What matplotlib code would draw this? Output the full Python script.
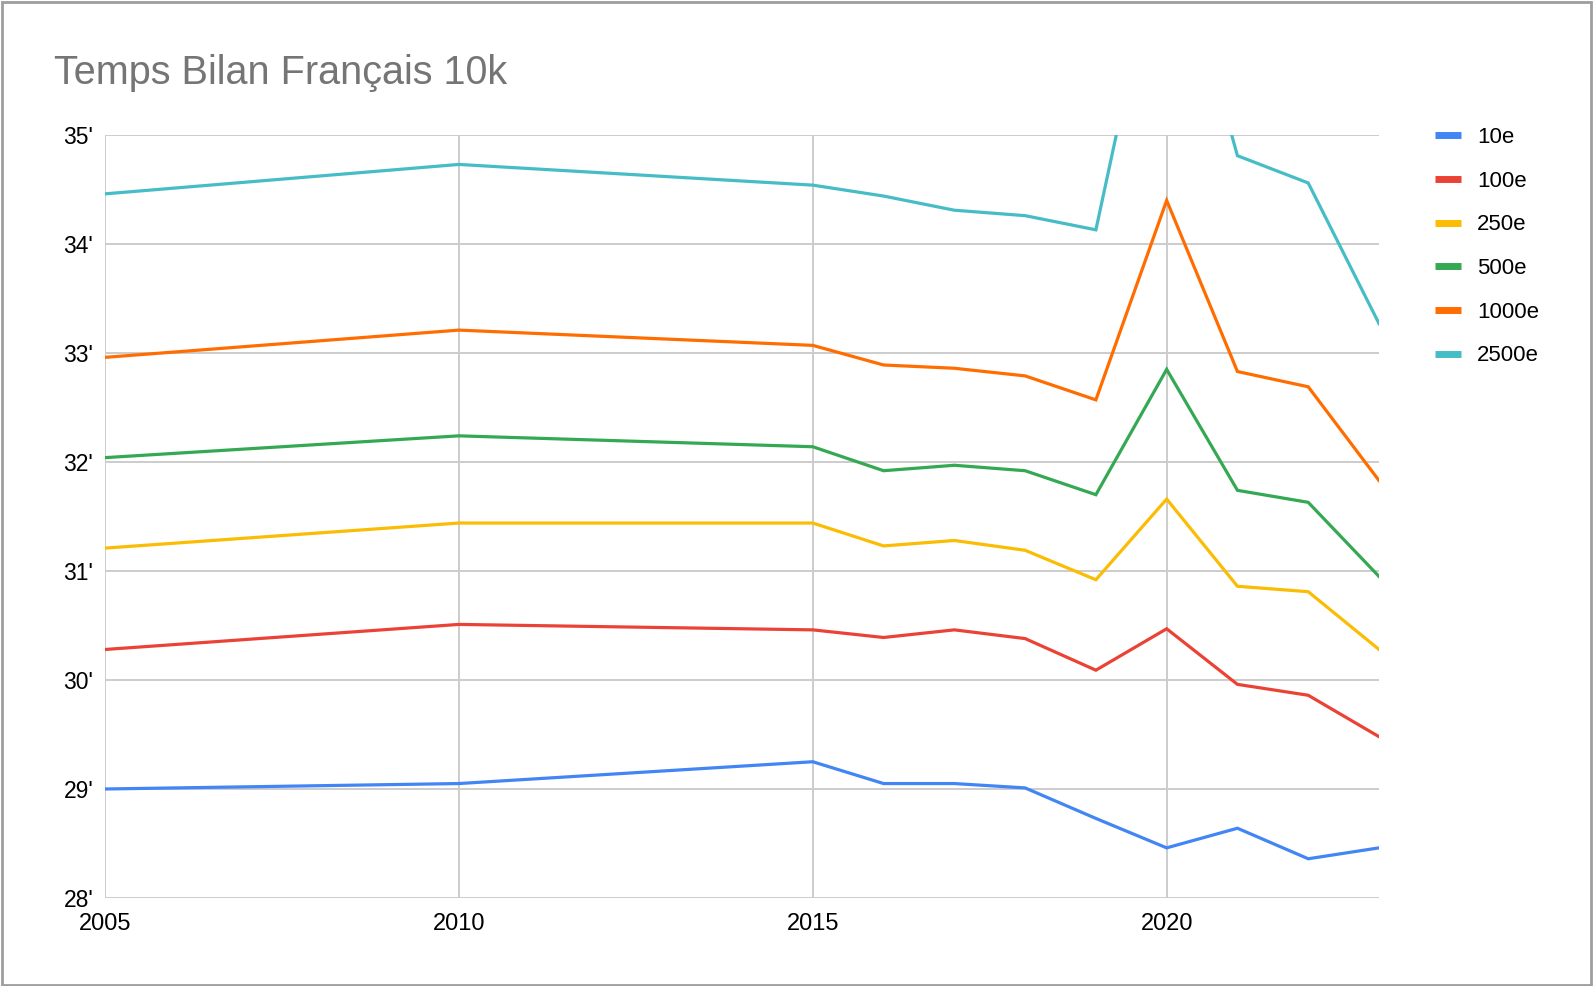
import matplotlib.pyplot as plt
from matplotlib.patches import Rectangle

plt.rcParams['font.family'] = ['Liberation Sans', 'DejaVu Sans']

years = [2005, 2010, 2015, 2016, 2017, 2018, 2019, 2020, 2021, 2022, 2023]

t_10 = [29.00, 29.05, 29.25, 29.05, 29.05, 29.01, 28.73, 28.46, 28.64, 28.36, 28.46]
t_100 = [30.28, 30.51, 30.46, 30.39, 30.46, 30.38, 30.09, 30.47, 29.96, 29.86, 29.48]
t_250 = [31.21, 31.44, 31.44, 31.23, 31.28, 31.19, 30.92, 31.66, 30.86, 30.81, 30.28]
t_500 = [32.04, 32.24, 32.14, 31.92, 31.97, 31.92, 31.70, 32.85, 31.74, 31.63, 30.95]
t_1000 = [32.96, 33.21, 33.07, 32.89, 32.86, 32.79, 32.57, 34.40, 32.83, 32.69, 31.83]
t_2500 = [34.46, 34.73, 34.54, 34.44, 34.31, 34.26, 34.13, 37.15, 34.81, 34.56, 33.27]

labels = ['10e', '100e', '250e', '500e', '1000e', '2500e']
colors = ['#4285F4', '#EA4335', '#FBBC04', '#34A853', '#FF6D01', '#46BDC6']

x_ticks = [2005, 2010, 2015, 2020]
y_ticks = [28, 29, 30, 31, 32, 33, 34, 35]
y_tick_labels = ["28'", "29'", "30'", "31'", "32'", "33'", "34'", "35'"]

W, H = 1594, 986
fig = plt.figure(figsize=(W / 100, H / 100), dpi=100)
ax = fig.add_axes([105 / W, 1 - 898 / H, (1379 - 105) / W, (898 - 135) / H])

series = [t_10, t_100, t_250, t_500, t_1000, t_2500]
for vals, lab, col in zip(series, labels, colors):
    ax.plot(years, vals, color=col, lw=2.3, label=lab, solid_joinstyle='miter')

ax.set_xlim(2005, 2023)
ax.set_ylim(28, 35)
ax.set_xticks(x_ticks)
ax.set_yticks(y_ticks)
ax.set_yticklabels(y_tick_labels)
ax.grid(True, color='#cccccc', lw=1.4)
ax.set_axisbelow(True)
for sp in ax.spines.values():
    sp.set_visible(False)
ax.tick_params(axis='both', length=0, colors='#000000')
ax.tick_params(axis='x', pad=10.5, labelsize=17)
ax.tick_params(axis='y', pad=8.5, labelsize=16.5)

fig.text(54 / W, 1 - 84 / H, 'Temps Bilan Français 10k', fontsize=28.5,
         color='#757575', ha='left', va='baseline')

leg = fig.legend(loc='upper left', bbox_to_anchor=(1435 / W, 1 - 127 / H),
                 frameon=False, fontsize=16, handlelength=1.15, handletextpad=0.75,
                 labelspacing=1.02, borderpad=0, borderaxespad=0)
for h in leg.get_lines():
    h.set_linewidth(5)
    h.set_solid_capstyle('butt')

fig.patches.append(Rectangle((0.001, 0.001), 0.997, 0.997, transform=fig.transFigure,
                             fill=False, edgecolor='#9e9e9e', lw=2))

fig.savefig('out.png', dpi=100)
